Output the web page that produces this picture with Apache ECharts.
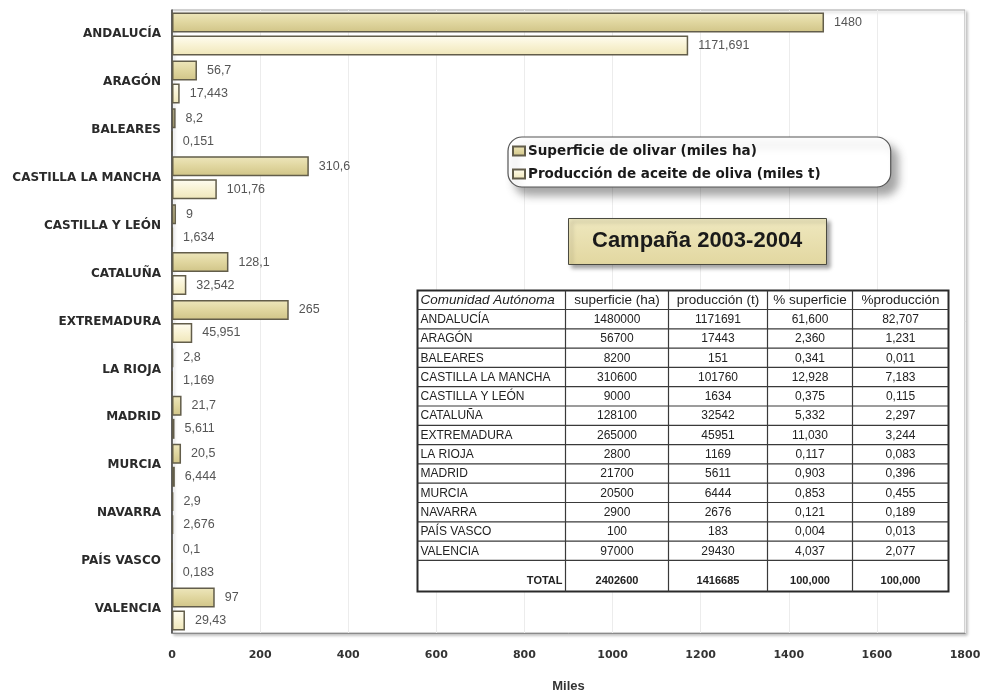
<!DOCTYPE html>
<html>
<head>
<meta charset="utf-8">
<script src="https://cdn.jsdelivr.net/npm/echarts@6/dist/echarts.min.js"></script>
<style>
  html, body { margin: 0; padding: 0; background: #fff; }
  #chart { width: 982px; height: 694px; }
</style>
</head>
<body>
<div id="chart"></div>
<script>
// Olive grove area and olive oil production by autonomous community
const categories = ['ANDALUCÍA', 'ARAGÓN', 'BALEARES', 'CASTILLA LA MANCHA', 'CASTILLA Y LEÓN',
  'CATALUÑA', 'EXTREMADURA', 'LA RIOJA', 'MADRID', 'MURCIA', 'NAVARRA', 'PAÍS VASCO', 'VALENCIA'];
const superficie = [1480, 56.7, 8.2, 310.6, 9, 128.1, 265, 2.8, 21.7, 20.5, 2.9, 0.1, 97];
const produccion = [1171.691, 17.443, 0.151, 101.76, 1.634, 32.542, 45.951, 1.169, 5.611, 6.444, 2.676, 0.183, 29.43];
const seriesNames = ['Superficie de olivar (miles ha)', 'Producción de aceite de oliva (miles t)'];
const xMin = 0, xMax = 1800, xStep = 200;

// Summary table
const tableHeader = ['Comunidad Autónoma', 'superficie (ha)', 'producción (t)', '% superficie', '%producción'];
const tableRegions = ['ANDALUCÍA', 'ARAGÓN', 'BALEARES', 'CASTILLA LA MANCHA', 'CASTILLA Y LEÓN',
  'CATALUÑA', 'EXTREMADURA', 'LA RIOJA', 'MADRID', 'MURCIA', 'NAVARRA', 'PAÍS VASCO', 'VALENCIA'];
const tableSuperficie = ['1480000', '56700', '8200', '310600', '9000', '128100', '265000', '2800', '21700', '20500', '2900', '100', '97000'];
const tableProduccion = ['1171691', '17443', '151', '101760', '1634', '32542', '45951', '1169', '5611', '6444', '2676', '183', '29430'];
const tablePctSuperficie = ['61,600', '2,360', '0,341', '12,928', '0,375', '5,332', '11,030', '0,117', '0,903', '0,853', '0,121', '0,004', '4,037'];
const tablePctProduccion = ['82,707', '1,231', '0,011', '7,183', '0,115', '2,297', '3,244', '0,083', '0,396', '0,455', '0,189', '0,013', '2,077'];
const tableTotals = ['TOTAL', '2402600', '1416685', '100,000', '100,000'];

const chart = echarts.init(document.getElementById('chart'), null, { renderer: 'canvas' });

function fmt(v) { return String(v).replace('.', ','); }

// --- table layout ---
const tX = 415, tY = 288;
const colEdges = [0, 148, 251, 350, 435, 531];
const headerH = 19, rowH = 19.3, totalH = 31;
const tW = colEdges[colEdges.length - 1];
const tH = headerH + rowH * tableRegions.length + totalH;
const bodyFont = '12px "Liberation Sans", Arial, sans-serif';
const TZ = 100;
const tableChildren = [];

tableChildren.push({ type: 'rect', z: TZ, shape: { x: 0, y: 0, width: tW, height: tH },
  style: { fill: '#fff', stroke: '#2a2a2a', lineWidth: 2 } });

// horizontal rules
const rowLines = [headerH];
for (let i = 1; i <= tableRegions.length; i++) rowLines.push(headerH + rowH * i);
rowLines.forEach(y => tableChildren.push({ type: 'line', z: TZ + 1, shape: { x1: 0, y1: y, x2: tW, y2: y },
  style: { stroke: '#3a3a3a', lineWidth: 1.2 } }));
// vertical rules
colEdges.slice(1, -1).forEach(x => tableChildren.push({ type: 'line', z: TZ + 1, shape: { x1: x, y1: 0, x2: x, y2: tH },
  style: { stroke: '#3a3a3a', lineWidth: 1.2 } }));

function cellText(txt, x, y, align, font) {
  tableChildren.push({ type: 'text', z: TZ + 2, style: { text: txt, x: x, y: y, font: font, fill: '#222',
    textAlign: align, align: align, textVerticalAlign: 'middle', verticalAlign: 'middle' } });
}
function colCenter(c) { return (colEdges[c] + colEdges[c + 1]) / 2; }

tableHeader.forEach((h, c) => {
  if (c === 0) cellText(h, 3, headerH / 2 + 0.5, 'left', 'italic 13.5px "Liberation Sans", Arial, sans-serif');
  else cellText(h, colCenter(c), headerH / 2 + 0.5, 'center', '13.5px "Liberation Sans", Arial, sans-serif');
});
const bodyCols = [tableSuperficie, tableProduccion, tablePctSuperficie, tablePctProduccion];
tableRegions.forEach((r, i) => {
  const y = headerH + rowH * i + rowH / 2 + 0.5;
  cellText(r, 3, y, 'left', bodyFont);
  bodyCols.forEach((col, c) => cellText(col[i], colCenter(c + 1), y, 'center', bodyFont));
});
const totY = headerH + rowH * tableRegions.length + totalH - 10;
const boldFont = 'bold 11px "Liberation Sans", Arial, sans-serif';
cellText(tableTotals[0], colEdges[1] - 3, totY, 'right', boldFont);
tableTotals.slice(1).forEach((t, c) => cellText(t, colCenter(c + 1), totY, 'center', boldFont));

const barBorder = '#625d4a';
const option = {
  animation: false,
  backgroundColor: '#ffffff',
  textStyle: { fontFamily: '"Liberation Sans", Arial, sans-serif' },
  title: {
    text: 'Campaña 2003-2004',
    left: 568, top: 218,
    padding: [12, 24, 13, 24],
    backgroundColor: new echarts.graphic.LinearGradient(0, 0, 0, 1, [
      { offset: 0, color: '#efe8bf' }, { offset: 1, color: '#e2d7a0' }]),
    borderColor: '#4a4a40', borderWidth: 1,
    shadowColor: 'rgba(0,0,0,0.35)', shadowBlur: 4, shadowOffsetX: 3, shadowOffsetY: 3,
    textStyle: { fontSize: 22, fontWeight: 'bold', color: '#1a1a1a',
      fontFamily: '"Liberation Sans", Arial, sans-serif' }
  },
  legend: {
    data: seriesNames,
    orient: 'vertical',
    left: 508, top: 137,
    padding: [7, 70, 6, 4],
    itemWidth: 12, itemHeight: 9, itemGap: 9,
    icon: 'rect',
    backgroundColor: '#ffffff',
    borderColor: '#555', borderWidth: 1.2, borderRadius: 14,
    shadowColor: 'rgba(0,0,0,0.35)', shadowBlur: 8, shadowOffsetX: 7, shadowOffsetY: 8,
    textStyle: { fontSize: 13.5, fontWeight: 'bold', color: '#1a1a1a', padding: [0, 0, 0, -2],
      fontFamily: '"DejaVu Sans", Verdana, sans-serif' }
  },
  grid: {
    left: 172, top: 10, right: 17, bottom: 61,
    outerBoundsMode: 'none',
    show: true, backgroundColor: '#ffffff',
    borderColor: '#a9a9a9', borderWidth: 1,
    shadowColor: 'rgba(0,0,0,0.25)', shadowBlur: 3, shadowOffsetX: 2, shadowOffsetY: 2
  },
  xAxis: {
    type: 'value', min: xMin, max: xMax, interval: xStep,
    name: 'Miles', nameLocation: 'middle', nameGap: 47,
    nameTextStyle: { fontSize: 13, fontWeight: 'bold', color: '#333',
      fontFamily: '"Liberation Sans", Arial, sans-serif' },
    axisLine: { show: true, lineStyle: { color: '#8a8a8a', width: 1 } },
    axisTick: { show: false },
    axisLabel: { margin: 17, fontSize: 11, fontWeight: 'bold', color: '#333',
      fontFamily: '"DejaVu Sans", Verdana, sans-serif', formatter: v => String(v) },
    splitLine: { show: true, lineStyle: { color: '#ececec', width: 1 } }
  },
  yAxis: {
    type: 'category', data: categories, inverse: true,
    axisLine: { show: true, lineStyle: { color: '#3a3a3a', width: 1.5 } },
    axisTick: { show: false },
    axisLabel: { margin: 11, fontSize: 12, fontWeight: 'bold', color: '#2a2a2a',
      fontFamily: '"DejaVu Sans", Verdana, sans-serif' },
    splitLine: { show: false }
  },
  series: [
    {
      name: seriesNames[0], type: 'bar', data: superficie,
      barWidth: 20, barGap: '15%',
      itemStyle: {
        color: new echarts.graphic.LinearGradient(0, 0, 0, 1, [
          { offset: 0, color: '#eee7bd' }, { offset: 0.5, color: '#e0d69f' }, { offset: 1, color: '#d0c487' }]),
        borderColor: barBorder, borderWidth: 1.5
      },
      label: { show: true, position: 'right', distance: 10, fontSize: 12.5, color: '#555',
        fontFamily: '"Liberation Sans", Arial, sans-serif', formatter: p => fmt(p.value) }
    },
    {
      name: seriesNames[1], type: 'bar', data: produccion,
      barWidth: 20,
      itemStyle: {
        color: new echarts.graphic.LinearGradient(0, 0, 0, 1, [
          { offset: 0, color: '#fffdf2' }, { offset: 0.5, color: '#f8f2d3' }, { offset: 1, color: '#efe6b9' }]),
        borderColor: barBorder, borderWidth: 1.5
      },
      label: { show: true, position: 'right', distance: 10, fontSize: 12.5, color: '#555',
        fontFamily: '"Liberation Sans", Arial, sans-serif', formatter: p => fmt(p.value) }
    }
  ],
  graphic: [
    { type: 'group', left: tX, top: tY, z: TZ, children: tableChildren }
  ]
};
chart.setOption(option);
</script>
</body>
</html>
